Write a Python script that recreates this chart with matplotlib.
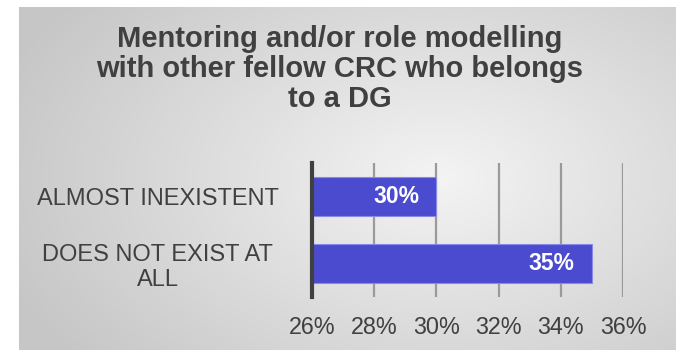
import numpy as np
import matplotlib.pyplot as plt

# data
categories = ["ALMOST INEXISTENT", "DOES NOT EXIST AT\nALL"]
values = [30, 35]
bar_labels = ["30%", "35%"]
ticks = [26, 28, 30, 32, 34, 36]
tick_labels = ["26%", "28%", "30%", "32%", "34%", "36%"]
title = "Mentoring and/or role modelling\nwith other fellow CRC who belongs\nto a DG"

plt.rcParams['font.family'] = ['Liberation Sans', 'DejaVu Sans']
text_color = '#404040'
bar_color = '#4b4bcf'

fig = plt.figure(figsize=(6.81, 3.5), dpi=100)
fig.patch.set_facecolor('white')

# grey radial gradient panel behind the chart
bg = fig.add_axes([19 / 681, 0, (676 - 19) / 681, (350 - 7) / 350], zorder=-10)
h, w = 343, 657
yy, xx = np.mgrid[0:h, 0:w]
cx, cy = 420, 170
d = np.sqrt(((xx - cx) / 420.0) ** 2 + ((yy - cy) / 260.0) ** 2)
img = np.clip(0.955 - 0.16 * d, 0.78, 1.0)
bg.imshow(np.dstack([img, img, img]), aspect='auto', extent=[0, 1, 0, 1])
bg.set_axis_off()

ax = fig.add_axes([312 / 681, 1 - 297 / 350, (623 - 312) / 681, 134 / 350])
ax.patch.set_alpha(0)

y = np.arange(len(categories))
ax.barh(y, [v - ticks[0] for v in values], left=ticks[0], height=0.58,
        color=bar_color, edgecolor='#8a8ae6', linewidth=0.8, zorder=3)
for yi, v, lab in zip(y, values, bar_labels):
    ax.text(v - 0.55, yi, lab, ha='right', va='center', color='white',
            fontsize=16.5, fontweight='bold', zorder=4)

ax.set_xlim(ticks[0], ticks[-1])
ax.set_ylim(len(categories) - 0.5, -0.5)
ax.set_xticks(ticks)
ax.set_xticklabels(tick_labels)
ax.set_yticks(y)
ax.set_yticklabels(categories, ha='center', multialignment='center')
ax.tick_params(axis='y', length=0, pad=111, labelsize=17, labelcolor=text_color)
ax.tick_params(axis='x', length=0, pad=14, labelsize=16.8, labelcolor=text_color)

ax.grid(axis='x', color='#9a9a9a', linewidth=1.6, zorder=1)
for s in ['top', 'right', 'bottom']:
    ax.spines[s].set_visible(False)
ax.spines['left'].set_color('#404040')
ax.spines['left'].set_linewidth(3)
ax.spines['left'].set_zorder(5)

fig.text(340 / 681, 1 - 69 / 350, title, ha='center', va='center',
         fontsize=21, fontweight='bold', color=text_color, linespacing=1.1)

fig.savefig('out.png', dpi=100)
